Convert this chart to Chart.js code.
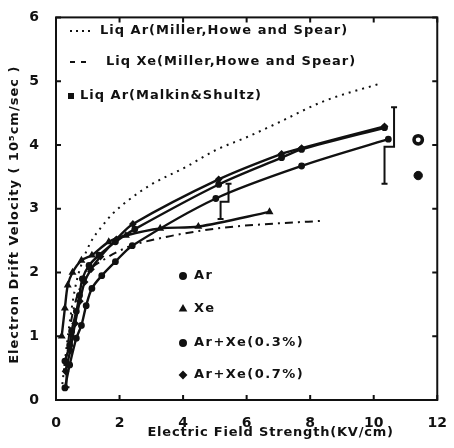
<!DOCTYPE html>
<html>
<head>
<meta charset="utf-8">
<script src="https://cdn.jsdelivr.net/npm/chart.js@4.4.1/dist/chart.umd.min.js"></script>
<style>
  html, body { margin: 0; padding: 0; background: #fff; }
  canvas { display: block; }
</style>
</head>
<body>
<canvas id="drift" width="454" height="448"></canvas>
<script>
// axis ticks
const xTicks = [0, 2, 4, 6, 8, 10, 12];
const yTicks = [0, 1, 2, 3, 4, 5, 6];

// measured series (field in kV/cm, velocity in 10^5 cm/s)
const arX = [0.28, 0.43, 0.64, 0.8, 0.95, 1.13, 1.44, 1.87, 2.4, 5.03, 7.73, 10.46];
const arY = [0.19, 0.55, 0.97, 1.17, 1.48, 1.75, 1.95, 2.17, 2.42, 3.16, 3.67, 4.09];

const xeX = [0.18, 0.28, 0.37, 0.52, 0.8, 1.13, 1.66, 2.2, 3.28, 4.48, 6.72];
const xeY = [1.0, 1.44, 1.8, 2.0, 2.19, 2.27, 2.48, 2.58, 2.69, 2.72, 2.95];

const mix3X = [0.28, 0.43, 0.49, 0.64, 0.74, 0.83, 1.04, 1.35, 1.87, 2.48, 5.12, 7.1, 7.73, 10.34];
const mix3Y = [0.61, 0.86, 1.08, 1.39, 1.64, 1.9, 2.11, 2.27, 2.48, 2.68, 3.38, 3.8, 3.93, 4.27];

const mix7X = [0.3, 0.45, 0.6, 0.75, 0.9, 1.1, 1.4, 1.9, 2.42, 5.12, 7.1, 7.73, 10.34];
const mix7Y = [0.45, 0.78, 1.2, 1.55, 1.85, 2.05, 2.25, 2.52, 2.76, 3.46, 3.86, 3.95, 4.29];

// reference curves
const millerArX = [0.2, 0.4, 0.6, 0.83, 1.1, 1.44, 1.8, 2.27, 3.0, 4.11, 5.03, 6.0, 7.0, 8.4, 10.25];
const millerArY = [0.25, 1.1, 1.75, 2.17, 2.48, 2.72, 2.93, 3.13, 3.38, 3.66, 3.92, 4.12, 4.35, 4.68, 4.97];

const millerXeX = [0.3, 0.5, 0.75, 1.0, 1.5, 2.27, 3.5, 4.5, 5.6, 7.0, 8.4];
const millerXeY = [0.6, 1.3, 1.75, 2.0, 2.2, 2.4, 2.56, 2.65, 2.72, 2.77, 2.81];

const malkinX = [11.4, 11.4];
const malkinY = [4.08, 3.52];

// error bars: upper end, step level, lower end
const errTopX = [10.64, 5.43, 0.33];
const errTop = [4.59, 3.39, 0.55];
const errStep = [3.97, 3.11, 0.55];
const errBotX = [10.34, 5.18, 0.33];
const errBot = [3.39, 2.84, 0.2];

const legendTop = ["Liq Ar(Miller,Howe and Spear)", "Liq Xe(Miller,Howe and Spear)", "Liq Ar(Malkin&Shultz)"];
const legendSeries = ["Ar", "Xe", "Ar+Xe(0.3%)", "Ar+Xe(0.7%)"];

const INK = '#111';
const FONT = "'DejaVu Sans', sans-serif";

function pts(xs, ys) {
    return xs.map((x, i) => ({ x: x, y: ys[i] }));
}

function series(label, xs, ys, style) {
    return {
        label: label,
        data: pts(xs, ys),
        showLine: true,
        borderColor: INK,
        backgroundColor: INK,
        borderWidth: 2.4,
        pointStyle: style,
        pointRadius: 2.2,
        tension: 0.3
    };
}

const frame = {
    id: 'frame',
    afterDraw(chart) {
        const ctx = chart.ctx;
        const a = chart.chartArea;
        const sx = chart.scales.x, sy = chart.scales.y;
        ctx.save();
        ctx.strokeStyle = INK;
        ctx.fillStyle = INK;

        // box and inward ticks
        ctx.lineWidth = 2;
        ctx.strokeRect(a.left, a.top, a.right - a.left, a.bottom - a.top);
        ctx.beginPath();
        xTicks.forEach(v => {
            const p = sx.getPixelForValue(v);
            ctx.moveTo(p, a.bottom); ctx.lineTo(p, a.bottom - 5);
            ctx.moveTo(p, a.top); ctx.lineTo(p, a.top + 5);
        });
        yTicks.forEach(v => {
            const p = sy.getPixelForValue(v);
            ctx.moveTo(a.left, p); ctx.lineTo(a.left + 5, p);
            ctx.moveTo(a.right, p); ctx.lineTo(a.right - 5, p);
        });
        ctx.stroke();

        // error bars
        ctx.lineWidth = 2;
        for (let i = 0; i < errTop.length; i++) {
            const x1 = sx.getPixelForValue(errTopX[i]);
            const x2 = sx.getPixelForValue(errBotX[i]);
            const y1 = sy.getPixelForValue(errTop[i]);
            const ys = sy.getPixelForValue(errStep[i]);
            const y2 = sy.getPixelForValue(errBot[i]);
            ctx.beginPath();
            ctx.moveTo(x1, y1); ctx.lineTo(x1, ys); ctx.lineTo(x2, ys); ctx.lineTo(x2, y2);
            ctx.moveTo(x1 - 3, y1); ctx.lineTo(x1 + 3, y1);
            ctx.moveTo(x2 - 3, y2); ctx.lineTo(x2 + 3, y2);
            ctx.stroke();
        }

        // axis titles
        ctx.font = "bold 13px " + FONT;
        ctx.letterSpacing = '0.8px';
        ctx.textAlign = 'center';
        ctx.textBaseline = 'middle';
        ctx.fillText("Electric Field Strength(KV/cm)", (a.left + a.right) / 2 + 24, 433);
        ctx.save();
        ctx.letterSpacing = '1px';
        ctx.translate(15, (a.top + a.bottom) / 2 + 6);
        ctx.rotate(-Math.PI / 2);
        ctx.fillText("Electron Drift Velocity ( 10\u2075cm/sec )", 0, 0);
        ctx.restore();

        // top legend
        ctx.font = "bold 13px " + FONT;
        ctx.letterSpacing = '1px';
        ctx.textAlign = 'left';
        const rows = [31, 62, 96];
        ctx.lineWidth = 2;
        ctx.setLineDash([2, 4]);
        ctx.beginPath(); ctx.moveTo(70, rows[0]); ctx.lineTo(94, rows[0]); ctx.stroke();
        ctx.setLineDash([5, 6]);
        ctx.beginPath(); ctx.moveTo(70, rows[1]); ctx.lineTo(86, rows[1]); ctx.stroke();
        ctx.setLineDash([]);
        ctx.fillRect(68, rows[2] - 3, 6, 6);
        ctx.fillText(legendTop[0], 100, rows[0]);
        ctx.fillText(legendTop[1], 106, rows[1]);
        ctx.fillText(legendTop[2], 80, rows[2]);

        // series legend
        const srows = [276, 309, 343, 375];
        const styles = ['circle', 'triangle', 'circle', 'rectRot'];
        ctx.font = "bold 13px " + FONT;
        ctx.letterSpacing = '1.5px';
        srows.forEach((y, i) => {
            Chart.helpers.drawPoint(ctx, { pointStyle: styles[i], radius: 3, borderWidth: 1 }, 183, y);
            ctx.fill();
            ctx.fillText(legendSeries[i], 194, y);
        });
        ctx.restore();
    }
};

new Chart(document.getElementById('drift'), {
    type: 'scatter',
    data: {
        datasets: [
            series('Ar', arX, arY, 'circle'),
            series('Xe', xeX, xeY, 'triangle'),
            series('Ar+Xe(0.3%)', mix3X, mix3Y, 'circle'),
            series('Ar+Xe(0.7%)', mix7X, mix7Y, 'rectRot'),
            {
                label: 'Liq Ar(Miller,Howe and Spear)',
                data: pts(millerArX, millerArY),
                showLine: true,
                borderColor: INK,
                borderWidth: 2,
                borderDash: [2, 5],
                pointRadius: 0,
                tension: 0.4,
                cubicInterpolationMode: 'monotone'
            },
            {
                label: 'Liq Xe(Miller,Howe and Spear)',
                data: pts(millerXeX, millerXeY),
                showLine: true,
                borderColor: INK,
                borderWidth: 2,
                borderDash: [8, 5, 2, 5],
                pointRadius: 0,
                tension: 0.4,
                cubicInterpolationMode: 'monotone'
            },
            {
                label: 'Liq Ar(Malkin&Shultz)',
                data: pts(malkinX, malkinY),
                showLine: false,
                borderColor: INK,
                backgroundColor: ['#fff', INK],
                borderWidth: [3.5, 1],
                pointRadius: 4.2,
                pointStyle: 'circle'
            }
        ]
    },
    plugins: [frame],
    options: {
        responsive: false,
        animation: false,
        devicePixelRatio: 1,
        layout: { padding: { top: 17, right: 7, left: 0, bottom: 0 } },
        plugins: { legend: { display: false }, tooltip: { enabled: false } },
        scales: {
            x: {
                type: 'linear',
                min: 0, max: 12,
                afterFit: s => { s.height = 48; },
                afterBuildTicks: s => { s.ticks = xTicks.map(v => ({ value: v })); },
                grid: { display: false },
                border: { display: false },
                ticks: { color: INK, padding: 7, font: { family: FONT, weight: 'bold', size: 14 } }
            },
            y: {
                type: 'linear',
                min: 0, max: 6,
                afterFit: s => { s.width = 56; },
                afterBuildTicks: s => { s.ticks = yTicks.map(v => ({ value: v })); },
                grid: { display: false },
                border: { display: false },
                ticks: { color: INK, padding: 9, font: { family: FONT, weight: 'bold', size: 14 } }
            }
        }
    }
});
</script>
</body>
</html>
